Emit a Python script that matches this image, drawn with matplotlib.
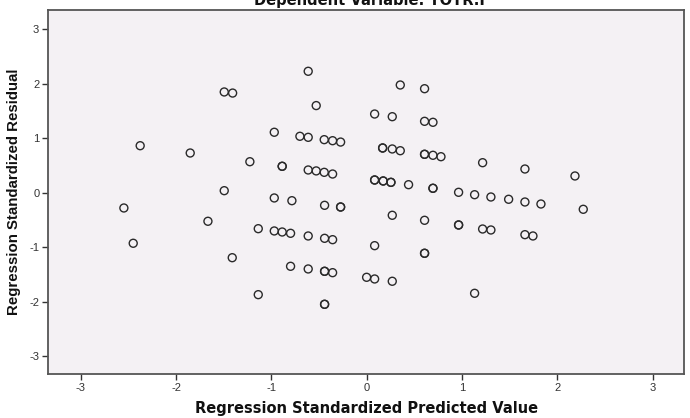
import matplotlib
matplotlib.use("Agg")
import matplotlib.pyplot as plt

# Regression Standardized Predicted Value (x) and Residual (y)
pred = [
    -0.613, -1.494, -1.406, -0.529, -0.969, -0.700, -0.613, -0.445, -0.357, -0.273,
    -2.376, -1.851, -1.225, -0.886, -0.886, -0.613, -0.529, -0.445, -0.357,
    -1.494, -0.969, -0.784, -0.441, -0.273, -0.273, -2.547,
    -1.665, -1.137, -0.969, -0.886, -0.798, -0.613, -0.441, -0.357, -2.449,
    -1.410, -0.798, -0.613, -0.441, -0.441, -0.357, -1.137, -0.441, -0.441,
    0.353, 0.608, 0.084, 0.269, 0.608, 0.696,
    0.168, 0.168, 0.269, 0.353, 0.608, 0.608, 0.696, 0.780, 1.217, 1.661, 2.186,
    0.084, 0.084, 0.174, 0.174, 0.255, 0.255, 0.440, 0.696, 0.696,
    0.965, 1.133, 1.304, 1.490, 1.661, 1.829, 2.273,
    0.269, 0.608, 0.965, 0.965, 1.217, 1.304, 1.661, 1.745,
    0.084, 0.608, 0.608, 0.000, 0.084, 0.269, 1.133,
]
resid = [
    2.230, 1.850, 1.830, 1.600, 1.110, 1.036, 1.017, 0.974, 0.955, 0.930,
    0.863, 0.729, 0.569, 0.485, 0.485, 0.417, 0.400, 0.374, 0.343,
    0.037, -0.097, -0.147, -0.232, -0.263, -0.263, -0.281,
    -0.525, -0.661, -0.703, -0.722, -0.746, -0.795, -0.838, -0.863, -0.929,
    -1.194, -1.352, -1.401, -1.444, -1.444, -1.469, -1.873, -2.050, -2.050,
    1.978, 1.910, 1.445, 1.396, 1.311, 1.293,
    0.821, 0.821, 0.803, 0.771, 0.705, 0.705, 0.687, 0.661, 0.551, 0.435, 0.307,
    0.233, 0.233, 0.215, 0.215, 0.190, 0.190, 0.147, 0.081, 0.081,
    0.007, -0.037, -0.079, -0.121, -0.171, -0.208, -0.305,
    -0.415, -0.507, -0.593, -0.593, -0.667, -0.685, -0.771, -0.795,
    -0.973, -1.113, -1.113, -1.554, -1.585, -1.627, -1.848,
]
ticks = [-3, -2, -1, 0, 1, 2, 3]

plt.rcParams['font.family'] = ['Liberation Sans', 'DejaVu Sans']

fig = plt.figure(figsize=(6.9, 4.18), dpi=100)
fig.patch.set_facecolor('white')
ax = fig.add_axes([0.070, 0.1053, 0.9213, 0.8707])
ax.set_facecolor('#f4f1f4')

ax.scatter(pred, resid, s=33, facecolors='none', edgecolors='#2a2a2a',
           linewidths=1.0, zorder=3)

ax.set_xlim(-3.34, 3.33)
ax.set_ylim(-3.33, 3.355)
ax.set_xticks(ticks)
ax.set_yticks(ticks)
ax.set_xticklabels([str(t) for t in ticks])
ax.set_yticklabels([str(t) for t in ticks])
ax.tick_params(direction='out', length=4.5, width=1.0, color='#333333',
               labelsize=8, labelcolor='#333333', pad=2)

for side in ['left', 'bottom', 'top', 'right']:
    ax.spines[side].set_color('#555555')
    ax.spines[side].set_linewidth(1.3)

ax.set_xlabel('Regression Standardized Predicted Value', fontsize=10.5,
              fontweight='bold', color='#111111', labelpad=6,
              family=['DejaVu Sans'])
ax.set_ylabel('Regression Standardized Residual', fontsize=10.8,
              fontweight='bold', color='#111111', labelpad=6)

fig.text(0.535, 0.999, 'Dependent Variable: TOTR.I', ha='center', va='center',
         fontsize=10.5, fontweight='bold', color='#111111',
         family=['DejaVu Sans'])

fig.savefig('out.png', dpi=100, facecolor='white')
